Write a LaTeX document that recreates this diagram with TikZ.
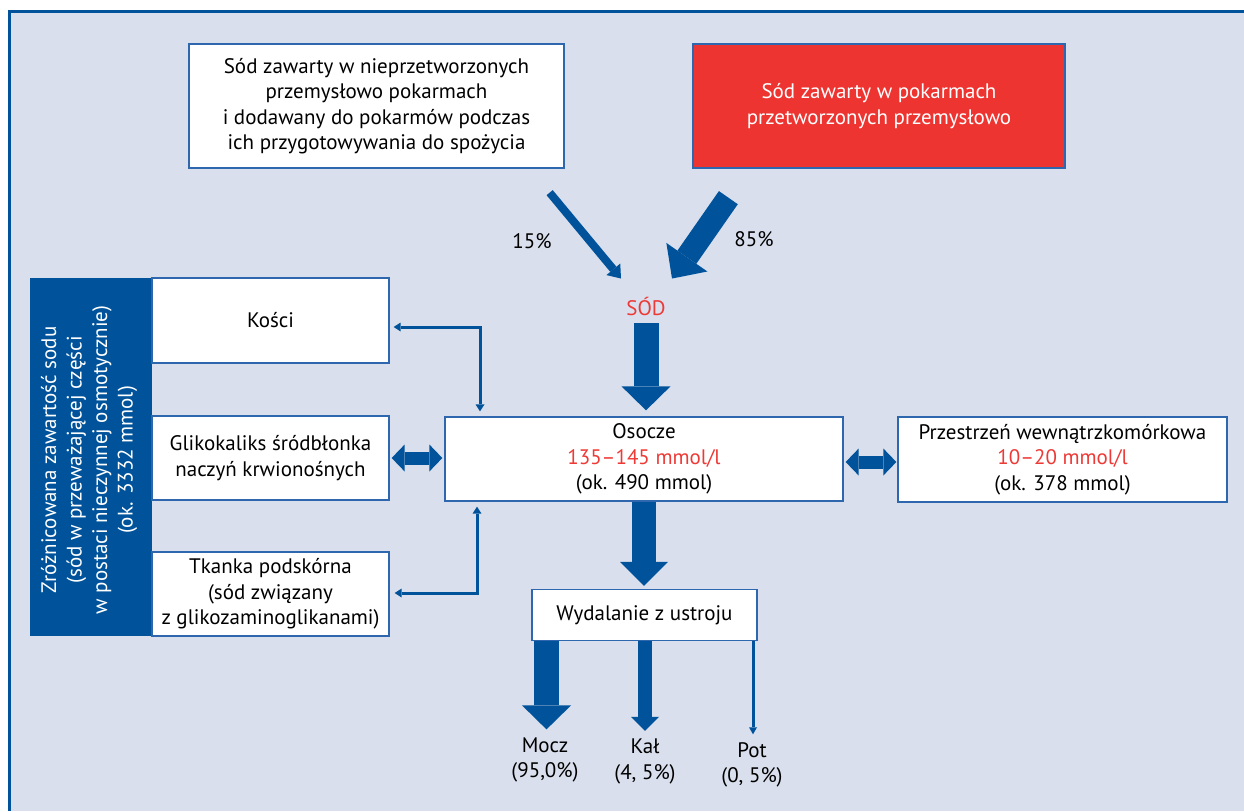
\documentclass[tikz,border=0pt]{standalone}
\usepackage{fontspec}
\setmainfont{PT Sans}
\usetikzlibrary{arrows.meta,calc}
\definecolor{bg}{HTML}{D9DFED}
\definecolor{nblue}{HTML}{00539B}
\definecolor{bblue}{HTML}{2F67AE}
\definecolor{nred}{HTML}{EE3431}
\definecolor{tred}{HTML}{EE3A36}
\newcommand\txt{\fontsize{21}{25.5}\selectfont}
\tikzset{
  box/.style={draw=bblue, line width=1.3pt, fill=white, align=center, inner sep=0pt, font=\txt, text=black},
  lbl/.style={align=center, inner sep=2pt, font=\txt, text=black},
  blk/.style n args={3}{draw=nblue, line width=#1, arrows={-Triangle[width=#2, length=#3, line width=0pt]}},
  dblk/.style n args={3}{draw=nblue, line width=#1, arrows={Triangle[width=#2, length=#3, line width=0pt]-Triangle[width=#2, length=#3, line width=0pt]}},
  elbow/.style={draw=nblue, line width=3pt, arrows={Triangle[width=9pt, length=7pt, line width=0pt]-Triangle[width=9pt, length=7pt, line width=0pt]}},
}
\begin{document}
\begin{tikzpicture}[x=1pt,y=-1pt]
\useasboundingbox (0,0) rectangle (1244,811);
\fill[white] (0,0) rectangle (1244,811);
\fill[bg] (9.5,11.5) rectangle (1244,811);
\draw[nblue, line width=3pt] (9.5,811) -- (9.5,11.5) -- (1244,11.5);

% source boxes
\node[box, minimum width=375, minimum height=124] (src1) at (376.5,106)
  {Sód zawarty w nieprzetworzonych\\przemysłowo pokarmach\\i dodawany do pokarmów podczas\\ich przygotowywania do spożycia};
\node[box, fill=nred, text=white, minimum width=372, minimum height=124] (src2) at (879,106)
  {Sód zawarty w pokarmach\\przetworzonych przemysłowo};

\node[lbl, text=tred] (sod) at (646,306) {SÓD};
\node[lbl] (p15) at (532,241) {15\%};
\node[lbl] (p85) at (754,239) {85\%};

% central boxes
\node[box, minimum width=398, minimum height=84] (osocze) at (644,459)
  {Osocze\\\textcolor{tred}{135–145 mmol/l}\\(ok. 490 mmol)};
\node[box, minimum width=329, minimum height=85] (icf) at (1062.5,459.5)
  {Przestrzeń wewnątrzkomórkowa\\\textcolor{tred}{10–20 mmol/l}\\(ok. 378 mmol)};
\node[box, minimum width=225, minimum height=51] (wyd) at (644.5,615) {Wydalanie z ustroju};

% side bar
\node[fill=nblue, minimum width=122, minimum height=358, inner sep=0pt] (side) at (91,457) {};
\node[rotate=90, text=white, align=center, font=\txt, inner sep=0pt] (sidetxt) at (89,460)
  {Zróżnicowana zawartość sodu\\(sód w przeważającej części\\w postaci nieczynnej osmotycznie)\\(ok. 3332 mmol)};
\node[box, minimum width=237, minimum height=85] (kosci) at (270.5,320.5) {Kości};
\node[box, minimum width=237, minimum height=84] (glik) at (270.5,458) {Glikokaliks śródbłonka\\naczyń krwionośnych};
\node[box, minimum width=237, minimum height=84] (tkanka) at (270.5,594) {Tkanka podskórna\\(sód związany\\z glikozaminoglikanami)};

% outputs
\node[lbl] (mocz) at (545,760) {Mocz\\(95,0\%)};
\node[lbl] (kal) at (645,761.5) {Kał\\(4, 5\%)};
\node[lbl] (pot) at (752,765) {Pot\\(0, 5\%)};

% arrows
\draw[blk={8pt}{18pt}{12pt}] ($(src1.south east)+(-15,24)$) -- ($(sod.north)+(-25,-16)$);
\draw[blk={23pt}{50pt}{26pt}] ($(src2.south west)+(36,29)$) -- ($(sod.north)+(26,-16)$);
\draw[blk={25pt}{49pt}{24pt}] ($(sod.south)+(0,6)$) -- ($(sod.south |- osocze.north)+(0,-6)$);
\draw[blk={24pt}{48pt}{24pt}] (osocze.south) -- ($(osocze.south |- wyd.north)+(0,-3)$);
\draw[blk={25pt}{49pt}{24pt}] ($(wyd.south -| mocz.north)+(1.5,0)$) -- ($(mocz.north)+(1.5,-6)$);
\draw[blk={14pt}{28pt}{14pt}] (wyd.south -| kal.north) -- ($(kal.north)+(0,-6)$);
\draw[blk={3pt}{8pt}{7pt}] ($(wyd.south -| pot.north)+(1,0)$) -- ($(pot.north)+(1,-6)$);

\draw[dblk={13pt}{27pt}{13pt}] ($(glik.east)+(2,0)$) -- ($(osocze.west |- glik.east)+(-2,0)$);
\draw[dblk={13pt}{27pt}{13pt}] ($(osocze.east)+(2,3)$) -- ($(icf.west)+(-1,2.5)$);

\coordinate (elb1) at (480,327);
\coordinate (elb2) at (477,593);
\draw[elbow] ($(kosci.east |- elb1)+(4,0)$) -- (elb1) -- ($(elb1 |- osocze.north)+(0,-5)$);
\draw[elbow] ($(elb2 |- osocze.south)+(0,5)$) -- (elb2) -- ($(tkanka.east |- elb2)+(5,0)$);
\end{tikzpicture}
\end{document}
